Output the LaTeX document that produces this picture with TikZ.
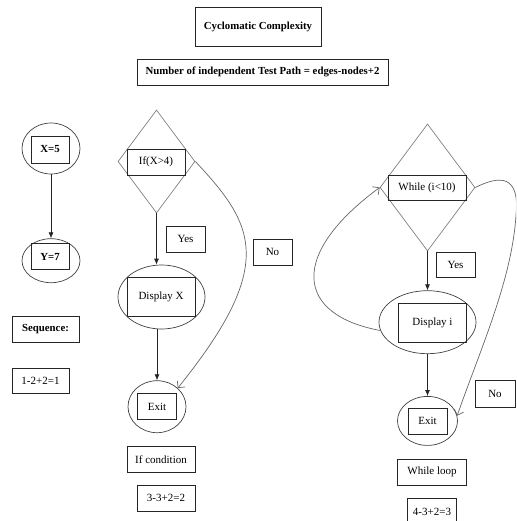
\documentclass[tikz,border=0pt]{standalone}
\usepackage{fontspec}
\setmainfont{Liberation Serif}
\usetikzlibrary{shapes.geometric,positioning,arrows.meta}

\tikzset{
  block/.style={ellipse, draw=black!75, inner sep=0pt},
  cond/.style={diamond, draw=black!50, inner sep=0pt},
  box/.style={rectangle, draw=black!85, inner sep=0pt, font=\fontsize{11}{13}\selectfont},
  bbox/.style={box, font=\fontsize{10.8}{13}\selectfont\bfseries},
  flow/.style={draw=black!85, -{Latex[length=6pt,width=5pt]}},
  back/.style={draw=black!60, -{Straight Barb[angle=90:7pt]}}
}

\begin{document}
\begin{tikzpicture}[x=1pt, y=-1pt, line width=0.7pt]

    \useasboundingbox (0,0) rectangle (516,521);
    \clip (0,0) rectangle (516,521);

    % Define nodes
    \node[bbox, minimum width=126, minimum height=39] (title) at (258,26.5) {Cyclomatic Complexity};
    \node[bbox, minimum width=251, minimum height=26] (formula) at (262.5,72) {Number of independent Test Path = edges-nodes+2};

    % Sequence
    \node[block, minimum width=58, minimum height=51]        (x5) at (51,148.5) {};
    \node[bbox, minimum width=38, minimum height=27]         (x5-box) at (50,149.5) {X=5};
    \node[block, minimum width=58, minimum height=44, below=64pt of x5] (y7) {};
    \node[bbox, minimum width=38, minimum height=26, yshift=4pt, xshift=-1pt] (y7-box) at (y7) {Y=7};
    \node[bbox, minimum width=67, minimum height=26]         (seq) at (45.5,329) {Sequence:};
    \node[box, minimum width=57, minimum height=25]          (seq-val) at (40.5,380.5) {1-2+2=1};

    % If condition
    \node[cond, minimum width=77, minimum height=103]        (if) at (156.5,161.5) {};
    \node[box, minimum width=58, minimum height=26]          (if-box) at (156,162) {If(X>4)};
    \node[box, minimum width=39, minimum height=26]          (yes-if) at (185.5,239) {Yes};
    \node[box, minimum width=39, minimum height=26]          (no-if) at (272.5,252) {No};
    \node[block, minimum width=87, minimum height=64]        (disp-x) at (161.5,297) {};
    \node[box, minimum width=68, minimum height=39]          (disp-x-box) at (161,296.5) {Display X};
    \node[block, minimum width=58, minimum height=52, below=51pt of disp-x, xshift=-4.5pt] (exit-if) {};
    \node[box, minimum width=39, minimum height=26]          (exit-if-box) at (exit-if) {Exit};
    \node[box, minimum width=68, minimum height=26, below=13pt of exit-if, xshift=4pt] (if-label) {If condition};
    \node[box, minimum width=58, minimum height=26, below=12pt of if-label, xshift=5pt] (if-val) {3-3+2=2};

    % While loop
    \node[cond, minimum width=95, minimum height=127]        (while) at (427.5,187.5) {};
    \node[box, minimum width=78, minimum height=25]          (while-box) at (427,187.5) {While (i<10)};
    \node[box, minimum width=39, minimum height=25]          (yes-while) at (455.5,264.5) {Yes};
    \node[block, minimum width=97, minimum height=63, below=39pt of while] (disp-i) {};
    \node[box, minimum width=68, minimum height=39, xshift=5pt, yshift=-1pt] (disp-i-box) at (disp-i) {Display i};
    \node[block, minimum width=60, minimum height=49, below=42pt of disp-i] (exit-while) {};
    \node[box, minimum width=39, minimum height=26]          (exit-while-box) at (exit-while) {Exit};
    \node[box, minimum width=40, minimum height=27]          (no-while) at (495,393.5) {No};
    \node[box, minimum width=69, minimum height=26, below=13pt of exit-while, xshift=4.5pt] (while-label) {While loop};
    \node[box, minimum width=49, minimum height=27, below=13pt of while-label] (while-val) {4-3+2=3};

    % Connect the nodes
    \draw[flow] (x5) -- (y7);
    \draw[flow] (if.south) -- (disp-x.north -| if.south);
    \draw[flow] (disp-x.south -| exit-if.north) -- (exit-if.north);
    \draw[back] (if.east) .. controls (255,225) and (277,265) .. (exit-if.north east);
    \draw[flow] (while.south) -- (disp-i.north);
    \draw[flow] (disp-i) -- (exit-while);
    \draw[back] (disp-i.190) .. controls (296,315) and (288,255) .. (while.west);
    \draw[back] (while.east) .. controls (500,175) and (520,175) .. (516,215)
                .. controls (512,280) and (480,350) .. (exit-while.10);

\end{tikzpicture}
\end{document}
